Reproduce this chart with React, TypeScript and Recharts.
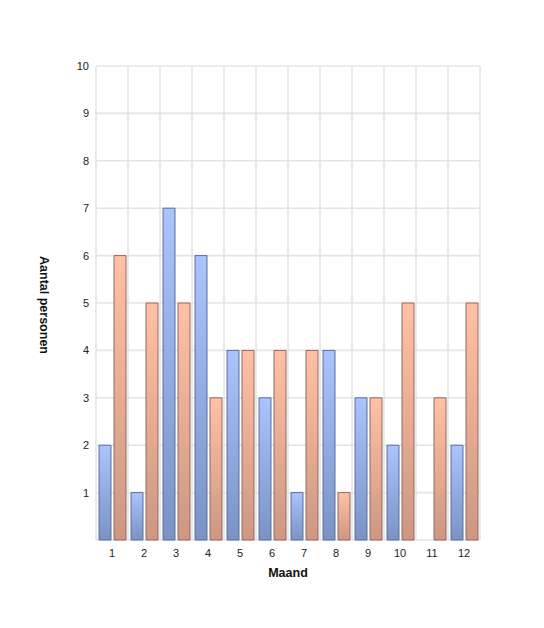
import React from 'react';
import { BarChart, Bar, XAxis, YAxis, CartesianGrid } from 'recharts';

const months = ['1', '2', '3', '4', '5', '6', '7', '8', '9', '10', '11', '12'];
const seriesA = [2, 1, 7, 6, 4, 3, 1, 4, 3, 2, 0, 2];
const seriesB = [6, 5, 5, 3, 4, 4, 4, 1, 3, 5, 3, 5];
const yTicks = [0, 1, 2, 3, 4, 5, 6, 7, 8, 9, 10];

const data = months.map((m, i) => ({ month: m, a: seriesA[i], b: seriesB[i] }));

const font = '"Liberation Sans", Arial, sans-serif';

const YLabel = (props: any) => {
  const vb = props.viewBox || {};
  const cx = 40;
  const cy = vb.y + vb.height / 2 + 2;
  return (
    <text
      x={cx}
      y={cy}
      transform={`rotate(90, ${cx}, ${cy})`}
      textAnchor="middle"
      fontFamily={font}
      fontSize={12.5}
      fontWeight="bold"
      fill="#111"
    >
      Aantal personen
    </text>
  );
};

export default function App() {
  return (
    <div style={{ position: 'absolute', left: 0, top: 0, width: 544, height: 628, background: '#fff' }}>
      <BarChart
        width={544}
        height={628}
        data={data}
        margin={{ top: 66, right: 64, left: 0, bottom: 38 }}
        barSize={12}
        barGap={3}
      >
        <defs>
          <linearGradient id="gradA" x1="0" y1="0" x2="0" y2="1">
            <stop offset="0%" stopColor="#abc4ff" />
            <stop offset="100%" stopColor="#7b92c6" />
          </linearGradient>
          <linearGradient id="gradB" x1="0" y1="0" x2="0" y2="1">
            <stop offset="0%" stopColor="#ffc1a6" />
            <stop offset="100%" stopColor="#cd9783" />
          </linearGradient>
        </defs>
        <CartesianGrid
          stroke="#e4e4e4"
          strokeWidth={1.6}
          verticalCoordinatesGenerator={({ offset }: any) =>
            months.map((_, i) => offset.left + (i * offset.width) / months.length).concat([offset.left + offset.width])
          }
          horizontalCoordinatesGenerator={({ offset }: any) =>
            yTicks.map((t) => offset.top + offset.height - (t * offset.height) / 10)
          }
        />
        <XAxis
          dataKey="month"
          height={50}
          axisLine={false}
          tickLine={false}
          tick={{ fontFamily: font, fontSize: 11, fill: '#222' }}
          tickMargin={3}
          label={{
            value: 'Maand',
            position: 'insideBottom',
            offset: 13,
            style: { fontFamily: font, fontSize: 12.5, fontWeight: 'bold', fill: '#111' },
          }}
        />
        <YAxis
          width={96}
          domain={[0, 10]}
          ticks={yTicks}
          axisLine={false}
          tickLine={false}
          tickMargin={1}
          tickFormatter={(v: number) => (v === 0 ? '' : String(v))}
          tick={{ fontFamily: font, fontSize: 11, fill: '#222' }}
          label={<YLabel />}
        />
        <Bar dataKey="a" fill="url(#gradA)" stroke="#5b6e9a" strokeWidth={1} isAnimationActive={false} />
        <Bar dataKey="b" fill="url(#gradB)" stroke="#93695d" strokeWidth={1} isAnimationActive={false} />
      </BarChart>
    </div>
  );
}
